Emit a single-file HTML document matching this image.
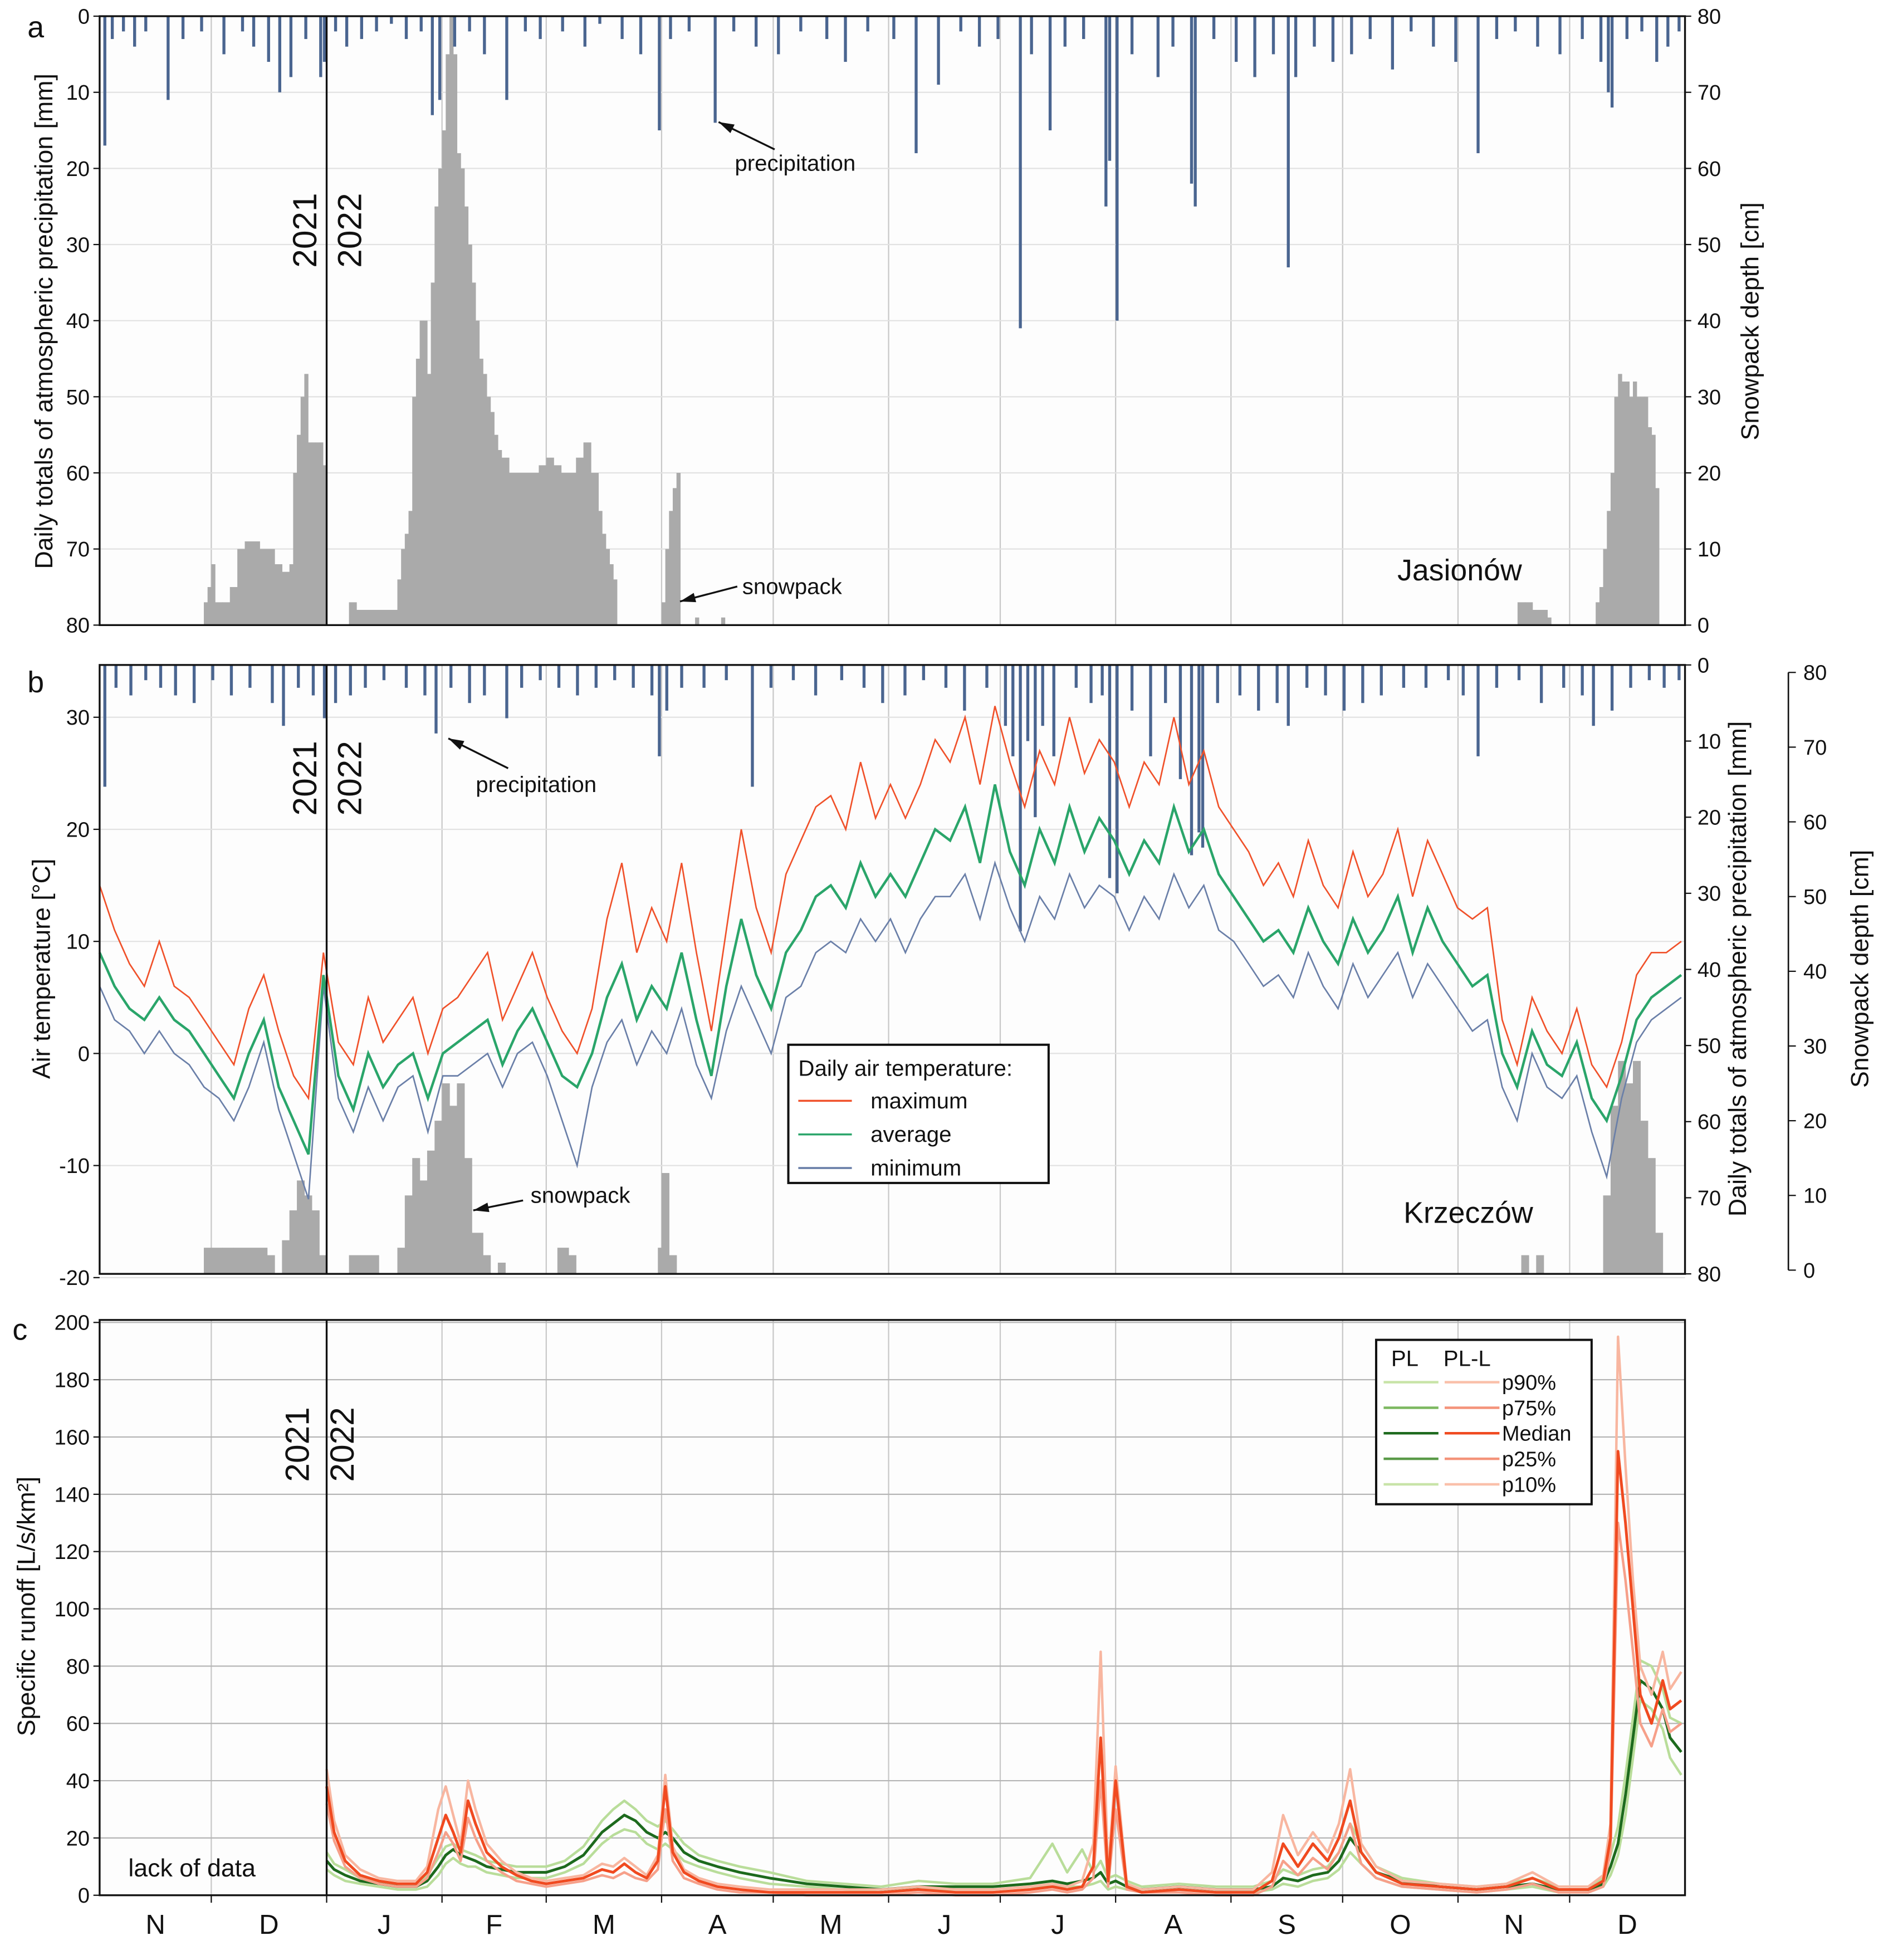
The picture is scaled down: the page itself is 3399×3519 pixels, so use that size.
<!DOCTYPE html>
<html><head><meta charset="utf-8"><style>
html,body{margin:0;padding:0;background:#fff}
svg{display:block;font-family:"Liberation Sans",Arial,sans-serif}
</style></head><body>
<svg id="chart" width="3399" height="3519" viewBox="0 0 1520 1574" preserveAspectRatio="none" xmlns="http://www.w3.org/2000/svg"></svg>
<script>
// ---------- DATA ----------
const months = ["N","D","J","F","M","A","M","J","J","A","S","O","N","D"];
const monthStartDays = [0,30,61,92,120,151,181,212,242,273,304,334,365,395,426];
const precipTicks = [0,10,20,30,40,50,60,70,80];
const snowTicks = [0,10,20,30,40,50,60,70,80];
const tempTicks = [30,20,10,0,-10,-20];
const runoffTicks = [0,20,40,60,80,100,120,140,160,180,200];

// Panel a (Jasionów) precipitation
const precipDaysA = [1,3,6,9,12,18,22,27,33,38,41,45,48,51,55,59,60,63,66,70,74,78,82,86,89,91,95,99,103,109,114,118,124,130,134,140,145,150,153,158,165,170,176,182,188,195,200,206,213,219,225,231,236,241,247,250,255,259,264,270,271,273,277,284,288,293,294,299,305,310,315,319,321,326,331,336,341,347,352,358,364,370,375,380,386,392,398,403,405,406,410,414,418,421,424];
const precipMmA =  [17,3,2,4,2,11,3,2,5,2,4,6,10,8,3,8,6,2,4,3,2,1,3,2,13,11,4,2,5,11,2,3,2,4,1,3,5,15,3,2,14,2,4,5,2,3,6,2,3,18,9,2,4,3,41,5,15,4,3,25,19,40,5,8,4,22,25,3,6,8,5,33,8,4,6,5,3,7,2,4,6,18,3,2,4,5,3,6,10,12,3,2,6,4,2];
const snowDaysA = [28,29,30,31,33,35,37,39,41,43,45,47,49,51,52,53,54,55,56,57,58,59,60,67,69,71,73,75,77,79,80,81,82,83,84,85,86,87,88,89,90,91,92,93,94,95,96,97,98,99,100,101,102,103,104,105,106,107,108,110,112,114,116,118,120,122,124,126,128,130,132,134,135,136,137,138,151,152,153,154,155,160,167,381,383,385,387,389,402,403,404,405,406,407,408,409,410,411,412,413,414,415,416,417,418];
const snowCmA  = [3,5,8,3,3,5,10,11,11,10,10,8,7,8,20,25,30,33,24,24,24,24,21,3,2,2,2,2,2,2,6,10,12,15,30,35,40,40,33,45,55,60,65,75,80,75,62,60,55,50,45,40,35,33,30,28,25,23,22,20,20,20,20,21,22,21,20,20,22,24,20,15,12,10,8,6,3,10,15,18,20,1,1,3,3,2,2,1,3,5,10,15,20,30,33,32,32,30,32,30,30,30,26,25,18];

// Panel b (Krzeczów) precipitation and snow
const precipDaysB = [1,4,8,12,16,20,25,30,35,40,46,49,53,57,60,63,67,71,76,82,87,90,94,99,103,109,113,118,123,128,133,138,143,148,150,152,156,162,168,175,180,186,192,199,205,210,216,221,227,232,238,243,245,247,249,251,253,256,262,266,269,271,273,277,282,286,290,293,295,296,300,306,311,316,319,324,329,334,339,344,350,356,362,366,370,375,381,387,393,398,401,406,411,416,420,424];
const precipMmB =  [16,3,4,2,3,4,5,2,4,3,5,8,3,4,7,5,4,3,2,3,4,9,3,5,4,7,3,2,3,4,3,2,3,4,12,6,3,3,2,16,3,2,4,2,3,5,4,2,3,6,3,8,12,35,10,20,8,12,3,5,4,28,30,6,12,5,15,25,22,24,5,4,6,5,8,3,4,6,5,4,3,3,2,4,12,3,2,5,3,4,8,6,3,2,3,2];
const snowDaysB = [28,30,33,36,39,42,45,49,51,53,55,57,59,67,70,73,80,82,84,86,88,90,92,94,96,98,100,103,107,123,126,150,151,153,382,386,404,406,408,410,412,414,416,418];
const snowCmB  = [3,3,3,3,3,3,2,4,8,12,10,8,2,2,2,2,3,10,15,12,16,20,25,22,25,15,5,2,1,3,2,3,13,2,2,2,10,22,28,25,28,20,15,5];

// Temperature (every 4 days from 1 Nov 2021)
const tempAvg = [9,6,4,3,5,3,2,0,-2,-4,0,3,-3,-6,-9,7,-2,-5,0,-3,-1,0,-4,0,1,2,3,-1,2,4,1,-2,-3,0,5,8,3,6,4,9,3,-2,6,12,7,4,9,11,14,15,13,17,14,16,14,17,20,19,22,17,24,18,15,20,17,22,18,21,19,16,19,17,22,18,20,16,14,12,10,11,9,13,10,8,12,9,11,14,9,13,10,8,6,7,0,-3,2,-1,-2,1,-4,-6,-2,3,5,6,7];
const tempMax = [15,11,8,6,10,6,5,3,1,-1,4,7,2,-2,-4,9,1,-1,5,1,3,5,0,4,5,7,9,3,6,9,5,2,0,4,12,17,9,13,10,17,9,2,11,20,13,9,16,19,22,23,20,26,21,24,21,24,28,26,30,24,31,26,22,27,24,30,25,28,26,22,26,24,30,24,27,22,20,18,15,17,14,19,15,13,18,14,16,20,14,19,16,13,12,13,3,-1,5,2,0,4,-1,-3,1,7,9,9,10];
const tempMin = [6,3,2,0,2,0,-1,-3,-4,-6,-3,1,-5,-9,-13,6,-4,-7,-3,-6,-3,-2,-7,-2,-2,-1,0,-3,0,1,-2,-6,-10,-3,1,3,-1,2,0,4,-1,-4,2,6,3,0,5,6,9,10,9,12,10,12,9,12,14,14,16,12,17,13,10,14,12,16,13,15,14,11,14,12,16,13,15,11,10,8,6,7,5,9,6,4,8,5,7,9,5,8,6,4,2,3,-3,-6,0,-3,-4,-2,-7,-11,-4,1,3,4,5];

// Runoff (specific runoff, L/s/km2)
const runoffDays = [61,63,66,70,75,80,85,88,91,93,95,97,99,101,104,108,112,116,120,125,130,135,138,141,144,147,150,152,154,157,161,166,172,180,190,200,210,220,230,240,250,256,260,264,267,269,271,273,276,280,290,300,310,315,318,322,326,330,333,336,339,343,350,360,370,378,385,392,400,404,406,408,410,412,414,417,420,422,425];
const pllMedian = [38,22,12,7,5,4,4,8,20,28,22,15,33,25,15,10,7,5,4,5,6,9,8,11,8,6,12,38,15,8,5,3,2,1,1,1,1,2,1,1,2,3,2,3,10,55,5,40,3,1,2,1,1,5,18,10,18,12,20,33,15,8,4,3,2,3,6,2,2,5,20,155,130,100,70,60,75,65,68];
const pllP90   = [44,26,14,9,6,5,5,10,30,38,28,18,40,30,18,12,8,6,5,6,7,11,10,13,10,7,14,42,17,9,6,4,3,2,2,2,2,3,2,2,3,4,3,5,18,85,8,45,4,2,3,2,2,8,28,14,22,15,25,44,18,10,5,4,3,4,8,3,3,7,25,195,150,110,80,70,85,72,78];
const pllP10   = [32,19,10,6,4,3,3,6,15,22,18,12,27,20,12,8,5,4,3,4,5,7,6,8,6,5,9,30,12,6,4,2,1,1,0,0,0,1,0,0,1,2,1,2,6,40,3,30,2,1,1,0,0,3,12,7,13,9,15,25,11,6,3,2,1,2,4,1,1,3,15,130,110,85,60,52,65,57,60];
const plMedian = [12,9,7,5,4,3,3,5,10,14,16,14,13,12,10,9,8,8,8,10,14,22,25,28,26,22,20,22,20,15,12,10,8,6,4,3,2,3,3,3,4,5,4,5,6,8,4,5,3,2,3,2,2,3,6,5,7,8,12,20,15,8,5,3,2,3,4,2,2,4,10,18,35,55,75,72,65,55,50];
const plP90    = [15,11,9,6,5,4,4,7,13,17,18,16,15,14,12,11,10,10,10,12,17,26,30,33,30,26,24,26,23,18,14,12,10,8,5,4,3,5,4,4,6,18,8,16,8,12,6,7,5,3,4,3,3,5,9,7,9,10,15,25,18,10,6,4,3,4,6,3,3,6,14,24,42,62,82,80,72,62,60];
const plP10    = [9,7,5,4,3,2,2,3,7,11,13,11,10,10,8,7,6,6,6,8,11,18,21,23,22,18,16,18,16,12,10,8,6,4,3,2,1,2,2,2,3,3,3,3,4,5,2,3,2,1,2,1,1,2,4,3,5,6,9,15,11,6,3,2,1,2,3,1,1,3,7,14,28,48,68,65,58,48,42];

// ---------- LAYOUT ----------
const svg = document.getElementById('chart');
const NS = 'http://www.w3.org/2000/svg';
const X0 = 80, X1 = 1353, NDAYS = 426;
const xDay = d => X0 + d * (X1 - X0) / NDAYS;
const dayW = (X1 - X0) / NDAYS;
const A = {top:13, bot:502};
const B = {top:534, bot:1023};
const C = {top:1060, bot:1522};
const precipY = (p, P) => P.top + p / 80 * (P.bot - P.top);
const snowYA = s => A.bot - s / 80 * (A.bot - A.top);
const snowYB = s => 1020 - s / 80 * (1020 - 540);
const tempY = t => 846 - t * 9;
const runoffY = r => C.bot - r / 200 * (C.bot - 1062);

function el(tag, attrs, parent) {
  const e = document.createElementNS(NS, tag);
  for (const k in attrs) e.setAttribute(k, attrs[k]);
  (parent || svg).appendChild(e);
  return e;
}
function txt(s, x, y, size, parent, extra) {
  const t = el('text', Object.assign({x:x, y:y, 'font-size':size, fill:'#111'}, extra || {}), parent);
  t.textContent = s;
  return t;
}

// panel backgrounds and gridlines
[A, B, C].forEach((P, pi) => {
  const g = el('g', {});
  
  
  el('rect', {x:X0, y:P.top, width:X1-X0, height:P.bot-P.top, fill:'#fdfdfd'}, g);
  monthStartDays.slice(1, -1).forEach(d => {
    const l = el('line', {x1:xDay(d), x2:xDay(d), y1:P.top, y2:P.bot, stroke:'#c8c8c8', 'stroke-width':1}, g);
    
    
  });
  P.g = g;
});
// horizontal gridlines
precipTicks.forEach(p => el('line', {x1:X0, x2:X1, y1:precipY(p, A), y2:precipY(p, A), stroke:'#e2e2e2'}, A.g));
tempTicks.forEach(t => el('line', {x1:X0, x2:X1, y1:tempY(t), y2:tempY(t), stroke:'#e2e2e2'}, B.g));
runoffTicks.forEach(r => el('line', {x1:X0, x2:X1, y1:runoffY(r), y2:runoffY(r), stroke:'#b5b5b5'}, C.g));

// ---------- PANEL A ----------
snowDaysA.forEach((d, i) => {
  const next = snowDaysA[i+1] !== undefined && snowDaysA[i+1] - d <= 3 ? snowDaysA[i+1] : d + 1;
  const r = el('rect', {x:xDay(d), y:snowYA(snowCmA[i]), width:(next-d)*dayW+0.3, height:A.bot-snowYA(snowCmA[i]), fill:'#aaaaaa'}, A.g);
  
  
});
precipDaysA.forEach((d, i) => {
  const r = el('rect', {x:xDay(d), y:A.top, width:dayW*0.8, height:precipY(precipMmA[i], A)-A.top, fill:'#4a6590'}, A.g);
  
  
});

// ---------- PANEL B ----------
snowDaysB.forEach((d, i) => {
  const next = snowDaysB[i+1] !== undefined && snowDaysB[i+1] - d <= 3 ? snowDaysB[i+1] : d + 2;
  const r = el('rect', {x:xDay(d), y:snowYB(snowCmB[i]), width:(next-d)*dayW+0.3, height:B.bot-snowYB(snowCmB[i]), fill:'#aaaaaa'}, B.g);
  
  
});
precipDaysB.forEach((d, i) => {
  const r = el('rect', {x:xDay(d), y:B.top, width:dayW*0.8, height:precipY(precipMmB[i], B)-B.top, fill:'#4a6590'}, B.g);
  
  
});
function tempLine(arr, color, w, name) {
  const step = 425 / (arr.length - 1);
  const pts = arr.map((v, i) => xDay(i*step).toFixed(1) + ',' + tempY(v).toFixed(1)).join(' ');
  const p = el('polyline', {points:pts, fill:'none', stroke:color, 'stroke-width':w}, B.g);
  
  
}
tempLine(tempMin, '#6a7fa8', 1.2, 'min-temperature-line');
tempLine(tempMax, '#f0512a', 1.2, 'max-temperature-line');
tempLine(tempAvg, '#2aa56a', 2, 'avg-temperature-line');

// ---------- PANEL C ----------
function runLine(arr, color, w, name) {
  const pts = arr.map((v, i) => xDay(runoffDays[i]).toFixed(1) + ',' + runoffY(v).toFixed(1)).join(' ');
  const p = el('polyline', {points:pts, fill:'none', stroke:color, 'stroke-width':w, 'stroke-linejoin':'round'}, C.g);
  
  
}
runLine(plP90, '#b9dd9a', 2, 'pl-p90-line');
runLine(plP10, '#b9dd9a', 2, 'pl-p10-line');
runLine(plMedian, '#1d6a1d', 2.2, 'pl-median-line');
runLine(pllP90, '#f8b6a0', 2, 'pll-p90-line');
runLine(pllP10, '#f6a08a', 2, 'pll-p10-line');
runLine(pllMedian, '#f04a20', 2.2, 'pll-median-line');

// ---------- FRAMES & AXES ----------
[A, B, C].forEach(P => el('rect', {x:X0, y:P.top, width:X1-X0, height:P.bot-P.top, fill:'none', stroke:'#111', 'stroke-width':1.5}));
// year divider
[A, B, C].forEach(P => el('line', {x1:xDay(61), x2:xDay(61), y1:P.top, y2:P.bot, stroke:'#111', 'stroke-width':1.5}));

const axg = el('g', {});


// panel a left ticks
precipTicks.forEach(p => {
  el('line', {x1:X0-5, x2:X0, y1:precipY(p, A), y2:precipY(p, A), stroke:'#111'}, axg);
  txt(String(p), X0-8, precipY(p, A)+6, 17, axg, {'text-anchor':'end'});
});
snowTicks.forEach(s => {
  el('line', {x1:X1, x2:X1+5, y1:snowYA(s), y2:snowYA(s), stroke:'#111'}, axg);
  txt(String(s), X1+10, snowYA(s)+6, 17, axg);
});
// panel b ticks
tempTicks.forEach(t => {
  el('line', {x1:X0-5, x2:X0, y1:tempY(t), y2:tempY(t), stroke:'#111'}, axg);
  txt(String(t), X0-8, tempY(t)+6, 17, axg, {'text-anchor':'end'});
});
precipTicks.forEach(p => {
  el('line', {x1:X1, x2:X1+5, y1:precipY(p, B), y2:precipY(p, B), stroke:'#111'}, axg);
  txt(String(p), X1+10, precipY(p, B)+6, 17, axg);
});
el('line', {x1:1436, x2:1436, y1:540, y2:1020, stroke:'#111', 'stroke-width':1.2}, axg);
snowTicks.forEach(s => {
  el('line', {x1:1436, x2:1442, y1:snowYB(s), y2:snowYB(s), stroke:'#111'}, axg);
  txt(String(s), 1448, snowYB(s)+6, 17, axg);
});
// panel c ticks
runoffTicks.forEach(r => {
  el('line', {x1:X0-5, x2:X0, y1:runoffY(r), y2:runoffY(r), stroke:'#111'}, axg);
  txt(String(r), X0-8, runoffY(r)+6, 17, axg, {'text-anchor':'end'});
});
monthStartDays.slice(1, -1).forEach(d => el('line', {x1:xDay(d), x2:xDay(d), y1:C.bot, y2:C.bot+6, stroke:'#111'}, axg));
months.forEach((m, i) => {
  const t = txt(m, (xDay(monthStartDays[i]) + xDay(monthStartDays[i+1])) / 2, 1553, 22, axg, {'text-anchor':'middle'});
  
  
});

// axis titles
function vtitle(s, x, y, name, size) {
  const t = txt(s, x, y, size || 20, svg, {'text-anchor':'middle', transform:'rotate(-90 '+x+' '+y+')'});
  
  
}
vtitle('Daily totals of atmospheric precipitation [mm]', 42, 258, 'y-axis-title-precip-a');
vtitle('Snowpack depth [cm]', 1412, 258, 'y-axis-title-snow-a');
vtitle('Air temperature [°C]', 40, 778, 'y-axis-title-temp');
vtitle('Daily totals of atmospheric precipitation [mm]', 1402, 778, 'y-axis-title-precip-b');
vtitle('Snowpack depth [cm]', 1500, 778, 'y-axis-title-snow-b');
vtitle('Specific runoff [L/s/km²]', 28, 1290, 'y-axis-title-runoff');

// panel letters
txt('a', 22, 30, 24);
txt('b', 22, 556, 24);
txt('c', 10, 1076, 24);

// year labels
[[238, 185], [238, 625], [232, 1160]].forEach(([x, y]) => {
  vtitle('2021', x+16, y, 'year-label-2021', 27);
  vtitle('2022', x+52, y, 'year-label-2022', 27);
});

// annotations
function arrow(x1, y1, x2, y2) {
  el('line', {x1:x1, y1:y1, x2:x2, y2:y2, stroke:'#111', 'stroke-width':1.5});
  const a = Math.atan2(y2-y1, x2-x1), L = 13;
  const p = [[x2, y2], [x2 - L*Math.cos(a-0.3), y2 - L*Math.sin(a-0.3)], [x2 - L*Math.cos(a+0.3), y2 - L*Math.sin(a+0.3)]];
  el('polygon', {points:p.map(q => q.join(',')).join(' '), fill:'#111'});
}
arrow(622, 120, 577, 98); txt('precipitation', 590, 137, 18);
arrow(592, 471, 546, 483); txt('snowpack', 596, 477, 18);
txt('Jasionów', 1122, 466, 24);
arrow(408, 617, 360, 593); txt('precipitation', 382, 636, 18);
arrow(420, 964, 380, 972); txt('snowpack', 426, 966, 18);
txt('Krzeczów', 1127, 982, 24);
txt('lack of data', 103, 1507, 20);

// legend b
const lb = el('g', {});


el('rect', {x:633, y:839, width:209, height:111, fill:'#fff', stroke:'#111', 'stroke-width':1.8}, lb);
txt('Daily air temperature:', 641, 864, 18, lb);
[['maximum', '#f0512a'], ['average', '#2aa56a'], ['minimum', '#6a7fa8']].forEach(([n, c], i) => {
  const y = 884 + i*27;
  el('line', {x1:641, x2:684, y1:y, y2:y, stroke:c, 'stroke-width':1.6}, lb);
  txt(n, 699, y+6, 18, lb);
});

// legend c
const lc = el('g', {});


el('rect', {x:1105, y:1076, width:173, height:132, fill:'#fff', stroke:'#111', 'stroke-width':1.8}, lc);
txt('PL', 1117, 1097, 18, lc);
txt('PL-L', 1159, 1097, 18, lc);
[['p90%', '#c8e4a8', '#fac0aa'], ['p75%', '#7cb860', '#f4937a'], ['Median', '#1d6a1d', '#f04a20'], ['p25%', '#5a9a48', '#f4937a'], ['p10%', '#c8e4a8', '#fac0aa']].forEach(([n, c1, c2], i) => {
  const y = 1110 + i*20.5;
  el('line', {x1:1111, x2:1155, y1:y, y2:y, stroke:c1, 'stroke-width':2}, lc);
  el('line', {x1:1160, x2:1204, y1:y, y2:y, stroke:c2, 'stroke-width':2}, lc);
  txt(n, 1206, y+6, 17, lc);
});
</script>
</body></html>
